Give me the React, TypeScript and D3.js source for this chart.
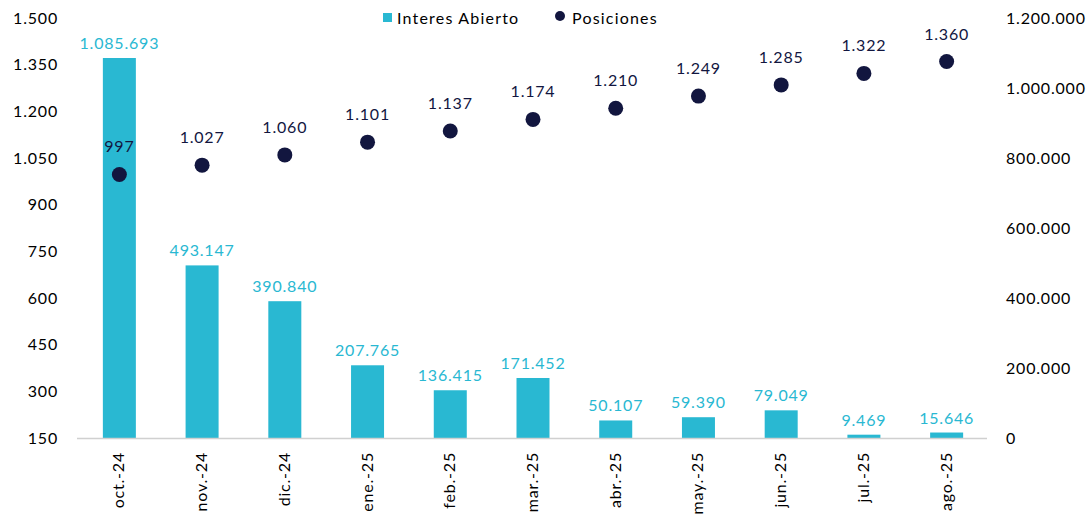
import React from "react";
import * as d3 from "d3";

const categories = ["oct.-24", "nov.-24", "dic.-24", "ene.-25", "feb.-25", "mar.-25", "abr.-25", "may.-25", "jun.-25", "jul.-25", "ago.-25"];
const interesAbierto = [1085693, 493147, 390840, 207765, 136415, 171452, 50107, 59390, 79049, 9469, 15646];
const posiciones = [997, 1027, 1060, 1101, 1137, 1174, 1210, 1249, 1285, 1322, 1360];
const leftTicks = [150, 300, 450, 600, 750, 900, 1050, 1200, 1350, 1500];
const rightTicks = [0, 200000, 400000, 600000, 800000, 1000000, 1200000];

const W = 1086;
const H = 516;
const plotLeft = 77;
const plotRight = 987;
const plotTop = 18;
const plotBottom = 438;
const FONT = "Lato, 'Open Sans', sans-serif";
const CYAN = "#29B8D2";
const NAVY = "#12163F";
const LS = 0.8;

const fmt = (v: number) => d3.format(",")(v).replace(/,/g, ".");

export default function App() {
  const xc = d3.scaleBand<string>().domain(categories).range([plotLeft, plotRight]);
  const yL = d3.scaleLinear().domain([150, 1500]).range([plotBottom, plotTop]);
  const yR = d3.scaleLinear().domain([0, 1200000]).range([plotBottom, plotTop]);
  const bw = 33;
  const cxOf = (c: string) => (xc(c) as number) + xc.bandwidth() / 2 + 1;

  return (
    <svg width={W} height={H} style={{ position: "absolute", left: 0, top: 0, fontFamily: FONT }}>
      <rect width={W} height={H} fill="#fff" />
      {leftTicks.map((t) => (
        <text key={"l" + t} x={58} y={yL(t)} dy="0.35em" textAnchor="end" fontSize={16} fill="#000" letterSpacing={LS}>
          {fmt(t)}
        </text>
      ))}
      {rightTicks.map((t) => (
        <text key={"r" + t} x={1006} y={yR(t)} dy="0.35em" textAnchor="start" fontSize={16} fill="#000" letterSpacing={LS}>
          {fmt(t)}
        </text>
      ))}
      {categories.map((c, i) => {
        const cx = cxOf(c);
        const v = interesAbierto[i];
        return (
          <g key={c}>
            <rect x={cx - bw / 2} y={yR(v)} width={bw} height={plotBottom - yR(v)} fill={CYAN} />
            <text x={cx} y={yR(v) - 9} textAnchor="middle" fontSize={16} fill={CYAN} letterSpacing={LS}>
              {fmt(v)}
            </text>
          </g>
        );
      })}
      <line x1={plotLeft} x2={plotRight} y1={plotBottom + 0.5} y2={plotBottom + 0.5} stroke="#d0d0d0" strokeWidth={1.5} />
      {categories.map((c, i) => {
        const cx = cxOf(c);
        const p = posiciones[i];
        return (
          <g key={"p" + c}>
            <circle cx={cx} cy={yL(p)} r={7.5} fill={NAVY} />
            <text x={cx} y={yL(p) - 22} textAnchor="middle" fontSize={16} fill={NAVY} letterSpacing={LS}>
              {fmt(p)}
            </text>
          </g>
        );
      })}
      {categories.map((c) => {
        const cx = cxOf(c);
        return (
          <text key={"x" + c} transform={`translate(${cx + 5},${452}) rotate(-90)`} textAnchor="end" fontSize={16} fill="#000" letterSpacing={LS}>
            {c}
          </text>
        );
      })}
      <rect x={383} y={13} width={9} height={9} fill={CYAN} />
      <text x={397} y={18} dy="0.35em" fontSize={16} fill="#000" letterSpacing={1.2}>Interes Abierto</text>
      <circle cx={560} cy={16} r={5} fill={NAVY} />
      <text x={572} y={18} dy="0.35em" fontSize={16} fill="#000" letterSpacing={1.2}>Posiciones</text>
    </svg>
  );
}
